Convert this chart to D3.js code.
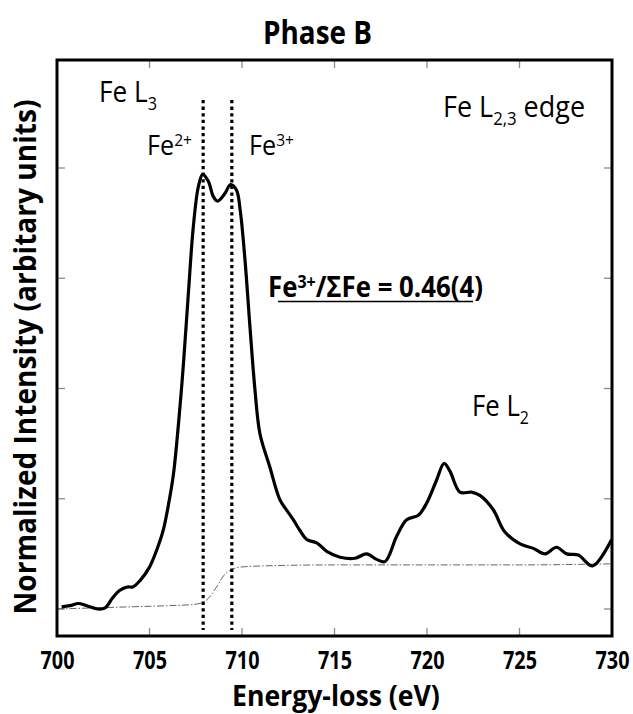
<!DOCTYPE html>
<html>
<head>
<meta charset="utf-8">
<script src="https://cdn.jsdelivr.net/npm/d3@7"></script>
<style>
  html, body { margin: 0; padding: 0; background: #fff; }
  svg { display: block; font-family: "Open Sans", "Noto Sans", sans-serif; }
</style>
</head>
<body>
<svg id="chart" width="633" height="714"></svg>
<script>
// Fe L2,3 edge EELS spectrum, Phase B
const energy = [700.25, 700.7, 701.15, 701.6, 702.2, 702.6, 703.0, 703.4, 703.8, 704.1, 704.5, 705.0,
  705.4, 705.75, 706.05, 706.3, 706.65, 706.85, 707.1, 707.37, 707.64, 707.87, 708.18, 708.45, 708.68,
  709.08, 709.38, 709.7, 709.9, 710.16, 710.43, 710.7, 710.97, 711.5, 712.05, 712.4, 712.77, 713.14,
  713.5, 714.04, 714.6, 715.3, 716.1, 716.74, 717.28, 717.73, 718.36, 718.9, 719.53, 719.98, 720.52,
  720.92, 721.24, 721.78, 722.41, 722.86, 723.58, 724.2, 725.03, 725.75, 726.38, 727.0, 727.55,
  728.18, 728.95, 729.98];
const intensity = [0.02, 0.03, 0.05, 0.03, 0.00, 0.01, 0.10, 0.17, 0.20, 0.20, 0.26, 0.38,
  0.54, 0.72, 0.97, 1.23, 1.84, 2.26, 2.86, 3.47, 3.83, 3.94, 3.88, 3.74, 3.70,
  3.77, 3.85, 3.80, 3.62, 3.17, 2.56, 1.99, 1.59, 1.29, 0.99, 0.90, 0.81, 0.71,
  0.63, 0.60, 0.52, 0.47, 0.46, 0.50, 0.45, 0.43, 0.66, 0.81, 0.85, 0.96, 1.17,
  1.32, 1.25, 1.06, 1.06, 1.03, 0.90, 0.70, 0.59, 0.55, 0.50, 0.56, 0.50,
  0.49, 0.39, 0.63];

// Step-shaped continuum background
const bgEnergy = [700.0, 702.0, 704.0, 706.0, 707.3, 707.9, 708.3, 708.7, 709.0, 709.35, 709.9, 711.0, 715.0, 720.0, 725.0, 730.0];
const bgIntensity = [0.00, 0.01, 0.02, 0.03, 0.04, 0.06, 0.12, 0.22, 0.30, 0.35, 0.38, 0.39, 0.40, 0.40, 0.40, 0.41];

// Fe2+ and Fe3+ reference energies
const markerEnergy = [707.9, 709.45];
const markerLabels = ["2+", "3+"];

const xTicks = [700, 705, 710, 715, 720, 725, 730];
const yTicks = [0, 1, 2, 3, 4];

const svg = d3.select("#chart");
const frameL = 57, frameR = 612, frameT = 60, frameB = 636;

const x = d3.scaleLinear().domain([700, 730]).range([frameL, frameR]);
const y = d3.scaleLinear().domain([0, 4]).range([609, 168]);

// Squeeze a text horizontally so it spans the given width; the
// text is laid out at the origin and placed with a transform.
function fitWidth(sel, left, baseline, width) {
  const w = sel.node().getBBox().width;
  sel.attr("x", 0).attr("y", 0)
     .attr("transform", `translate(${left},${baseline}) scale(${width / w},1)`);
  return sel;
}

// inward ticks on all four sides
const tickLen = 8;
const gTicks = svg.append("g").attr("stroke", "#8a8a8a").attr("stroke-width", 1.3);
xTicks.slice(1, -1).forEach(t => {
  gTicks.append("line").attr("x1", x(t)).attr("x2", x(t)).attr("y1", frameB).attr("y2", frameB - tickLen);
  gTicks.append("line").attr("x1", x(t)).attr("x2", x(t)).attr("y1", frameT).attr("y2", frameT + tickLen);
});
yTicks.forEach(t => {
  gTicks.append("line").attr("x1", frameL).attr("x2", frameL + tickLen).attr("y1", y(t)).attr("y2", y(t));
  gTicks.append("line").attr("x1", frameR).attr("x2", frameR - tickLen).attr("y1", y(t)).attr("y2", y(t));
});

// x tick labels via d3 axis (domain and tick lines hidden)
const xAxis = svg.append("g")
  .attr("transform", `translate(0,${frameB})`)
  .call(d3.axisBottom(x).tickValues(xTicks).tickSize(0).tickPadding(0).tickFormat(d3.format("d")));
xAxis.select(".domain").remove();
xAxis.selectAll("text")
  .attr("font-family", "'Open Sans', sans-serif")
  .attr("font-size", 25).attr("font-weight", 700).attr("fill", "#000")
  .attr("dy", null).attr("y", 33);
xAxis.selectAll("text").each(function () {
  const w = this.getBBox().width;
  d3.select(this).attr("transform", `scale(${34 / w},1)`);
});

// background
const bgData = bgEnergy.map((e, i) => [e, bgIntensity[i]]);
svg.append("path")
  .datum(bgData)
  .attr("fill", "none")
  .attr("stroke", "#666")
  .attr("stroke-width", 1)
  .attr("stroke-dasharray", "7,2,1.5,2")
  .attr("d", d3.line().x(d => x(d[0])).y(d => y(d[1])).curve(d3.curveMonotoneX));

// dotted reference lines
svg.append("g").selectAll("line")
  .data(markerEnergy)
  .join("line")
  .attr("x1", d => x(d)).attr("x2", d => x(d))
  .attr("y1", 100).attr("y2", 630)
  .attr("stroke", "#000")
  .attr("stroke-width", 3.2)
  .attr("stroke-dasharray", "3.3,3.3");

// spectrum
const specData = energy.map((e, i) => [e, intensity[i]]);
svg.append("path")
  .datum(specData)
  .attr("fill", "none")
  .attr("stroke", "#000")
  .attr("stroke-width", 3.2)
  .attr("stroke-linejoin", "round")
  .attr("d", d3.line().x(d => x(d[0])).y(d => y(d[1])).curve(d3.curveCatmullRom.alpha(0.5)));

// frame
svg.append("rect")
  .attr("x", frameL).attr("y", frameT)
  .attr("width", frameR - frameL).attr("height", frameB - frameT)
  .attr("fill", "none").attr("stroke", "#000").attr("stroke-width", 3);

// title
fitWidth(svg.append("text")
  .attr("font-size", 33).attr("font-weight", 700)
  .text("Phase B"), 263, 44, 109);

// axis titles
fitWidth(svg.append("text")
  .attr("font-size", 28).attr("font-weight", 700)
  .text("Energy-loss (eV)"), 232, 706, 208);

const yTitle = svg.append("text")
  .attr("text-anchor", "middle")
  .attr("font-size", 31).attr("font-weight", 700)
  .text("Normalized Intensity (arbitary units)");
{
  const w = yTitle.node().getBBox().width;
  yTitle.attr("transform", `translate(36,357) rotate(-90) scale(${515 / w},1)`);
}

// annotations with a subscript or superscript
function scriptText(left, baseline, width, main, script, size, shift, tail, weight) {
  const t = svg.append("text").attr("font-size", size).attr("font-weight", weight || 400);
  t.append("tspan").text(main);
  t.append("tspan").attr("dy", shift).attr("font-size", size * 0.62).text(script);
  if (tail) t.append("tspan").attr("dy", -shift).text(tail);
  return fitWidth(t, left, baseline, width);
}
scriptText(99, 102, 58, "Fe L", "3", 29, 8);
scriptText(443, 117, 142, "Fe L", "2,3", 29, 8, " edge");
scriptText(472, 416, 57, "Fe L", "2", 29, 8);

markerLabels.forEach((lab, i) => {
  const left = i === 0 ? 147 : 249;
  scriptText(left, 155, 45, "Fe", lab, 27, -9);
});

// oxidation state ratio, underlined
scriptText(268, 297, 215, "Fe", "3+", 28, -9, "/ΣFe = 0.46(4)", 700);
svg.append("line")
  .attr("x1", 278).attr("x2", 473).attr("y1", 301.5).attr("y2", 301.5)
  .attr("stroke", "#000").attr("stroke-width", 1.4);
</script>
</body>
</html>
